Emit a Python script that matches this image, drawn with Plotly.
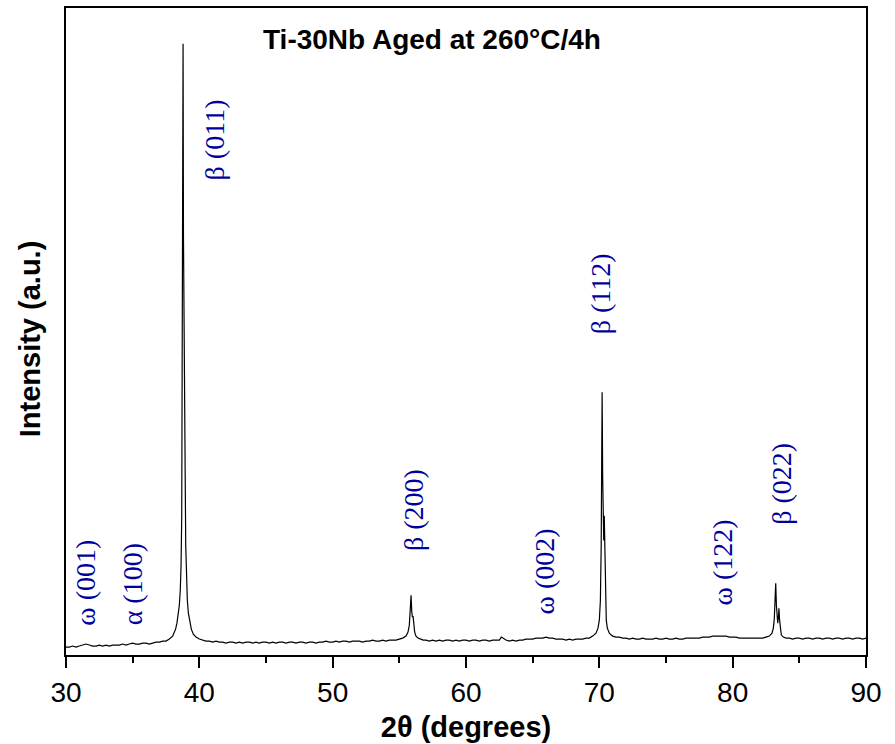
import plotly.graph_objects as go

# XRD scan of Ti-30Nb aged at 260 °C for 4 h (2θ in degrees, intensity in a.u.)
two_theta = [
    30.00, 30.25, 30.50, 30.75, 31.00, 31.25, 31.50, 31.75, 32.00, 32.25,
    32.50, 32.75, 33.00, 33.25, 33.50, 33.75, 34.00, 34.25, 34.50, 34.75,
    35.00, 35.25, 35.50, 35.75, 36.00, 36.25, 36.50, 36.75, 37.00, 37.25,
    37.50, 37.75, 38.00,
    38.12, 38.22, 38.32, 38.42, 38.50, 38.57, 38.63, 38.68, 38.72, 38.75,
    38.78, 38.81, 38.84, 38.87, 38.90, 38.94, 38.98, 39.03, 39.10, 39.18,
    39.28, 39.40, 39.55, 39.75, 40.00,
    40.25, 40.50, 40.75, 41.00, 41.25, 41.50, 41.75, 42.00, 42.25, 42.50,
    42.75, 43.00, 43.25, 43.50, 43.75, 44.00, 44.25, 44.50, 44.75, 45.00,
    45.25, 45.50, 45.75, 46.00, 46.25, 46.50, 46.75, 47.00, 47.25, 47.50,
    47.75, 48.00, 48.25, 48.50, 48.75, 49.00, 49.25, 49.50, 49.75, 50.00,
    50.25, 50.50, 50.75, 51.00, 51.25, 51.50, 51.75, 52.00, 52.25, 52.50,
    52.75, 53.00, 53.25, 53.50, 53.75, 54.00, 54.25, 54.50, 54.75, 55.00,
    55.25, 55.50,
    55.65, 55.75, 55.82, 55.88, 55.93, 55.98, 56.03, 56.08, 56.15, 56.25,
    56.40, 56.60, 56.80,
    57.00, 57.25, 57.50, 57.75, 58.00, 58.25, 58.50, 58.75, 59.00, 59.25,
    59.50, 59.75, 60.00, 60.25, 60.50, 60.75, 61.00, 61.25, 61.50, 61.75,
    62.00, 62.25, 62.50, 62.65, 62.75, 63.00, 63.25, 63.50, 63.75, 64.00,
    64.25, 64.50, 64.75, 65.00, 65.25, 65.50, 65.75, 66.00, 66.25, 66.50,
    66.75, 67.00, 67.25, 67.50, 67.75, 68.00, 68.25, 68.50, 68.75, 69.00,
    69.25, 69.50, 69.75,
    69.90, 70.00, 70.08, 70.14, 70.18, 70.21, 70.25, 70.29, 70.33, 70.37,
    70.41, 70.46, 70.52, 70.60, 70.75, 70.90,
    71.00, 71.25, 71.50, 71.75, 72.00, 72.25, 72.50, 72.75, 73.00, 73.25,
    73.50, 73.75, 74.00, 74.25, 74.50, 74.75, 75.00, 75.25, 75.50, 75.75,
    76.00, 76.25, 76.50, 76.75, 77.00, 77.25, 77.50, 77.75, 78.00, 78.25,
    78.50, 78.75, 79.00, 79.25, 79.50, 79.75, 80.00, 80.25, 80.50, 80.75,
    81.00, 81.25, 81.50, 81.75, 82.00, 82.25, 82.50, 82.75, 82.95,
    83.05, 83.12, 83.18, 83.23, 83.28, 83.33, 83.38, 83.43, 83.47, 83.52,
    83.58, 83.65, 83.80,
    84.00, 84.25, 84.50, 84.75, 85.00, 85.25, 85.50, 85.75, 86.00, 86.25,
    86.50, 86.75, 87.00, 87.25, 87.50, 87.75, 88.00, 88.25, 88.50, 88.75,
    89.00, 89.25, 89.50, 89.75, 90.00,
]

intensity = [
    8, 8, 9, 8, 9, 10, 11, 10, 9, 9,
    10, 9, 10, 9, 10, 10, 10, 11, 10, 11,
    12, 11, 11, 12, 12, 11, 12, 13, 13, 14,
    14, 16, 19,
    22, 26, 32, 40, 50, 65, 90, 140, 270, 450,
    614, 420, 330, 346, 300, 180, 110, 75, 55, 42,
    33, 26, 21, 18, 16,
    15, 14, 14, 13, 14, 13, 13, 12, 13, 13,
    12, 13, 12, 13, 13, 12, 13, 12, 13, 13,
    12, 13, 12, 13, 13, 12, 13, 13, 12, 13,
    13, 12, 13, 13, 12, 13, 13, 14, 13, 13,
    14, 13, 14, 14, 13, 14, 14, 14, 13, 14,
    14, 15, 14, 14, 15, 14, 15, 15, 15, 16,
    17, 19,
    23, 30, 42, 60, 44, 38, 39, 30, 23, 19,
    17, 16, 15,
    15, 14, 15, 14, 15, 14, 15, 15, 14, 15,
    14, 15, 15, 14, 15, 15, 14, 15, 15, 14,
    15, 15, 15, 18, 17, 15, 14, 15, 14, 15,
    15, 16, 16, 16, 17, 17, 17, 18, 17, 17,
    16, 16, 16, 15, 16, 15, 16, 16, 16, 17,
    17, 19, 22,
    27, 35, 55, 110, 200, 264, 180, 120, 115, 140,
    100, 55, 35, 27, 22, 20,
    19, 18, 18, 17, 17, 16, 17, 16, 16, 17,
    16, 16, 16, 17, 16, 16, 17, 16, 16, 17,
    16, 16, 17, 17, 17, 17, 17, 18, 18, 18,
    19, 19, 19, 19, 19, 18, 18, 18, 17, 17,
    17, 17, 17, 17, 17, 17, 18, 19, 22,
    27, 36, 50, 72, 50, 35, 32, 38, 47, 35,
    24, 20, 18,
    17, 17, 16, 17, 17, 16, 17, 17, 16, 17,
    17, 16, 17, 17, 16, 17, 17, 16, 17, 17,
    16, 17, 17, 16, 17,
]

# Phase / reflection labels
peak_labels = ["ω (001)", "α (100)", "β (011)", "β (200)",
               "ω (002)", "β (112)", "ω (122)", "β (022)"]

x_ticks = [30, 40, 50, 60, 70, 80, 90]

fig = go.Figure()
fig.add_trace(go.Scatter(
    x=two_theta, y=intensity, mode="lines",
    line=dict(color="black", width=1.2),
    showlegend=False, hoverinfo="skip",
))

# label anchors (2θ, intensity) for the reflection names
label_anchor = [(31.45, 73), (34.95, 71), (41.1, 517), (56.05, 146),
                (65.85, 84), (70.1, 363), (79.2, 93), (83.7, 172)]
for text, (lx, ly) in zip(peak_labels, label_anchor):
    fig.add_annotation(
        x=lx, y=ly, text=text, showarrow=False, textangle=-90,
        xanchor="center", yanchor="middle",
        font=dict(family="Liberation Serif", size=28, color="#00009C"),
    )

fig.add_annotation(
    x=0.4575, y=0.951, xref="paper", yref="paper",
    text="<b>Ti-30Nb Aged at 260°C/4h</b>", showarrow=False,
    xanchor="center", yanchor="middle",
    font=dict(family="Liberation Sans", size=28, color="black"),
)

# y-axis title placed as a rotated paper annotation
fig.add_annotation(
    x=-0.045, y=0.488, xref="paper", yref="paper",
    text="<b>Intensity (a.u.)</b>", showarrow=False, textangle=-90,
    xanchor="center", yanchor="middle",
    font=dict(family="Liberation Sans", size=29, color="black"),
)

fig.update_layout(
    width=895, height=744,
    margin=dict(l=66, r=29, t=6, b=88),
    paper_bgcolor="white", plot_bgcolor="white",
    font=dict(family="Liberation Sans", color="black"),
)

fig.update_xaxes(
    range=[30, 90], tickvals=x_ticks, ticktext=[str(v) for v in x_ticks],
    ticks="outside", ticklen=11, tickwidth=2, tickcolor="black",
    minor=dict(ticks="outside", ticklen=6, tickwidth=2, tickcolor="black", dtick=5, tick0=35, showgrid=False),
    showline=True, linewidth=2, linecolor="black", mirror=True,
    showgrid=False, zeroline=False,
    tickfont=dict(family="Liberation Sans", size=28, color="black"),
    title=dict(text="<b>2θ (degrees)</b>", standoff=10,
               font=dict(family="Liberation Sans", size=29, color="black")),
)

fig.update_yaxes(
    range=[0, 650], showticklabels=False, ticks="",
    showline=True, linewidth=2, linecolor="black", mirror=True,
    showgrid=False, zeroline=False,
)

fig.write_html("out.html")
